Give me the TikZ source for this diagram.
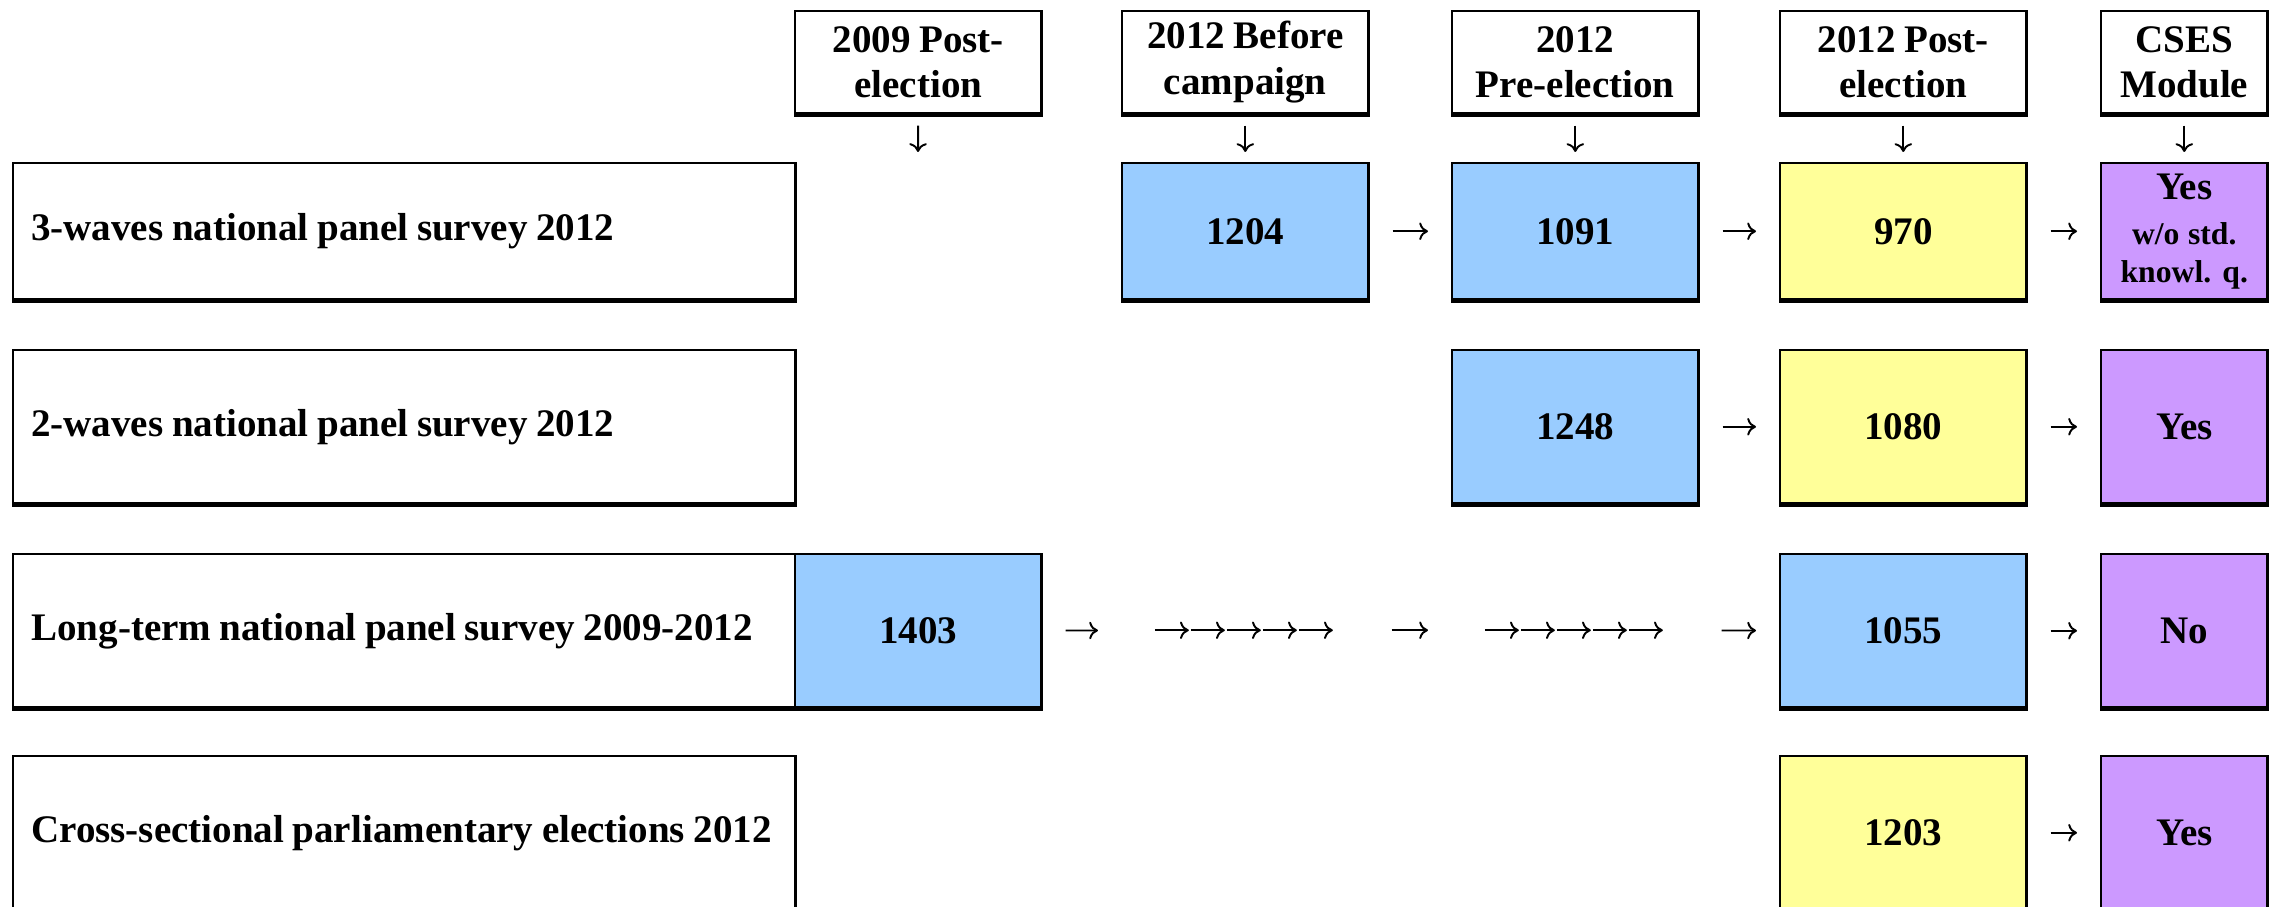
\documentclass[tikz,border=0pt]{standalone}
\usepackage{fontspec}
\setmainfont{Liberation Serif}
\usetikzlibrary{arrows.meta}
\definecolor{panelblue}{RGB}{153,204,255}
\definecolor{postyellow}{RGB}{255,255,153}
\definecolor{csespurple}{RGB}{204,153,255}
\newcommand{\cellfont}{\fontsize{11.1}{13}\selectfont\bfseries\spaceskip=0.22em\relax}
\newcommand{\smalltext}[1]{{\fontsize{9}{10.5}\selectfont #1}}

\begin{document}
\begin{tikzpicture}[x=0.01cm, y=-0.01cm,
  every node/.style={font=\cellfont},
  rule/.style={append after command={(\tikzlastnode.south west) edge[line width=1.3pt, draw=black] (\tikzlastnode.south east)}},
  box/.style={draw, line width=0.7pt, anchor=north west, inner sep=0pt, align=flush center, rule},
  void/.style={anchor=north west, inner sep=0pt},
  wide/.style={minimum width=2.46cm},
  narrow/.style={minimum width=1.66cm},
  short/.style={minimum height=1.36cm},
  tall/.style={minimum height=1.53cm},
  head/.style={box, minimum height=1.02cm},
  lab/.style={draw, line width=0.7pt, anchor=north west, inner xsep=0.18cm, inner ysep=0pt, text width=7.46cm, align=flush left, rule},
  arr/.style={-{To[length=2.5pt,width=5pt]}, line width=0.55pt},
  gap/.style={arr, shorten <=0.23cm, shorten >=0.23cm}]
\useasboundingbox (0,0) rectangle (2272,907);

% wave headers
\node[head, wide]   (h1) at (794,10)  {2009 Post-\\election};
\node[head, wide]   (h2) at (1121,10) {2012 Before\\campaign};
\node[head, wide]   (h3) at (1451,10) {2012\\Pre-election};
\node[head, wide]   (h4) at (1779,10) {2012 Post-\\election};
\node[head, narrow] (h5) at (2100,10) {CSES\\Module};

% survey labels
\node[lab, short] (l1) at (12,162) {3-waves national panel survey 2012};
\node[lab, tall]  (l2) at (12,349) {2-waves national panel survey 2012};
\node[lab, tall]  (l3) at (12,553) {Long-term national panel survey 2009-2012};
\node[lab, tall]  (l4) at (12,755) {Cross-sectional parliamentary elections 2012};

% row 1
\node[void, wide, short] (r1c1) at (794,162) {};
\node[box, wide, short, fill=panelblue]   (r1c2) at (1121,162) {1204};
\node[box, wide, short, fill=panelblue]   (r1c3) at (1451,162) {1091};
\node[box, wide, short, fill=postyellow]  (r1c4) at (1779,162) {970};
\node[box, narrow, short, fill=csespurple] (r1c5) at (2100,162)
  {Yes\\\smalltext{w/o std.}\\[-2.3pt]\smalltext{knowl. q.}};

% row 2
\node[box, wide, tall, fill=panelblue]   (r2c3) at (1451,349) {1248};
\node[box, wide, tall, fill=postyellow]  (r2c4) at (1779,349) {1080};
\node[box, narrow, tall, fill=csespurple] (r2c5) at (2100,349) {Yes};

% row 3
\node[box, wide, tall, fill=panelblue]   (r3c1) at (794,553)  {1403};
\node[void, wide, tall] (r3c2) at (1121,553) {};
\node[void, wide, tall] (r3c3) at (1451,553) {};
\node[box, wide, tall, fill=panelblue]   (r3c4) at (1779,553) {1055};
\node[box, narrow, tall, fill=csespurple] (r3c5) at (2100,553) {No};

% row 4
\node[box, wide, tall, fill=postyellow]  (r4c4) at (1779,755) {1203};
\node[box, narrow, tall, fill=csespurple] (r4c5) at (2100,755) {Yes};

% downward arrows
\foreach \c in {1,...,5}
  \draw[arr, shorten <=0.11cm, shorten >=0.10cm] (h\c) -- (r1c\c);

% arrows between waves
\draw[gap] (r1c2) -- (r1c3);
\draw[gap] (r1c3) -- (r1c4);
\draw[gap] (r1c4) -- (r1c5);
\draw[gap] (r2c3) -- (r2c4);
\draw[gap] (r2c4) -- (r2c5);
\foreach \a/\b in {1/2, 2/3, 3/4, 4/5}
  \draw[gap] (r3c\a) -- (r3c\b);
\draw[gap] (r4c4) -- (r4c5);

% skipped waves
\foreach \c in {r3c2, r3c3}
  \foreach \i in {0,...,4}
    \draw[arr] (\c.center) ++({\i*36-90},0) -- ++(34,0);
\end{tikzpicture}
\end{document}
